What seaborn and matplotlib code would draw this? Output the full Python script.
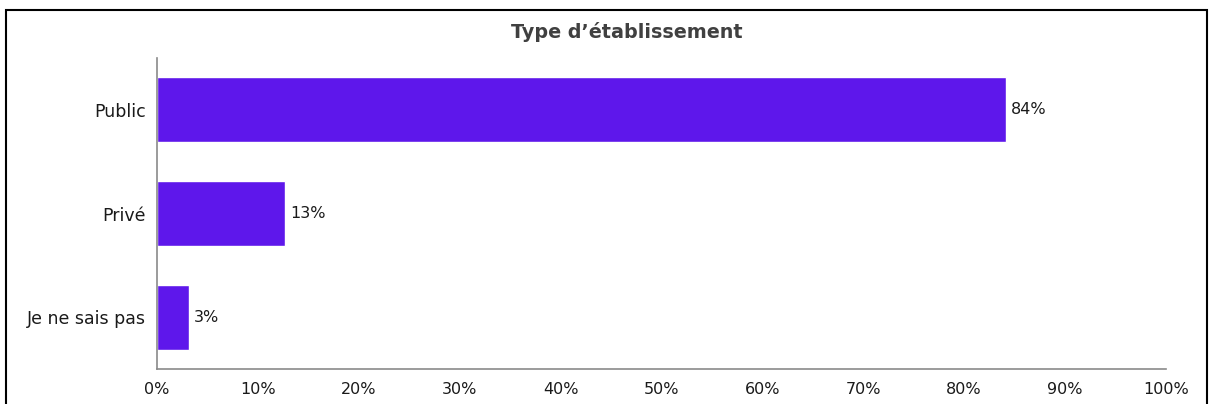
import matplotlib
matplotlib.use('Agg')
import matplotlib.pyplot as plt
from matplotlib.patches import Rectangle
from matplotlib.ticker import PercentFormatter
import seaborn as sns
import pandas as pd

# données
categories = ['Public', 'Privé', 'Je ne sais pas']
values = [84.1, 12.7, 3.2]
labels = ['84%', '13%', '3%']

df = pd.DataFrame({'categorie': categories, 'valeur': values})

sns.set_theme(style='white')
plt.rcParams['font.family'] = ['DejaVu Sans']

fig = plt.figure(figsize=(12.11, 4.04), dpi=100)
ax = fig.add_axes([0.1296, 0.0866, 0.8332, 0.7698])

sns.barplot(data=df, x='valeur', y='categorie', orient='h', color='#5e17eb',
            saturation=1, width=0.625, ax=ax)

# étiquettes de valeur au bout des barres
for i, (v, lab) in enumerate(zip(values, labels)):
    ax.text(v + 0.5, i, lab, va='center', ha='left', fontsize=11.5, color='#1a1a1a')

ax.set_xlim(0, 100)
ax.set_ylim(2.5, -0.5)
ax.set_xticks(range(0, 101, 10))
ax.xaxis.set_major_formatter(PercentFormatter(decimals=0))
ax.set_xlabel('')
ax.set_ylabel('')
ax.tick_params(axis='x', length=0, labelsize=11.5, colors='#1a1a1a', pad=9)
ax.tick_params(axis='y', length=0, labelsize=12.5, colors='#1a1a1a', pad=8)

for s in ['top', 'right']:
    ax.spines[s].set_visible(False)
for s in ['left', 'bottom']:
    ax.spines[s].set_color('#8a8a8a')
    ax.spines[s].set_linewidth(1.2)

fig.text(627 / 1211, 1 - 32 / 404, 'Type d\u2019établissement', ha='center', va='center',
         fontsize=13.8, fontweight='bold', color='#404040')

# cadre noir
fig.patches.append(Rectangle((6 / 1211, -0.05), 1201 / 1211, 0.05 + 1 - 10 / 404,
                             transform=fig.transFigure, fill=False,
                             edgecolor='black', linewidth=1.5))

fig.savefig('out.png', dpi=100)
